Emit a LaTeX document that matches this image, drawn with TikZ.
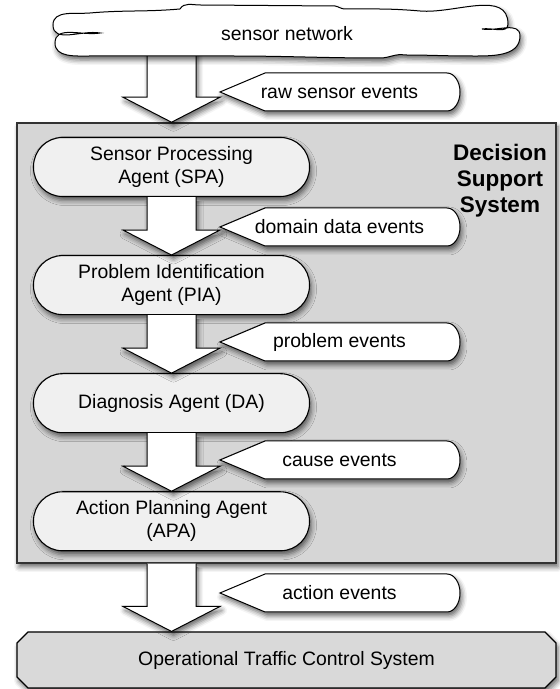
\documentclass[tikz,border=0pt]{standalone}
\usepackage{fontspec}
\setmainfont{Liberation Sans}
\usetikzlibrary{positioning,calc,shapes.misc,shadows.blur}

\begin{document}
\begin{tikzpicture}[x=1pt,y=1pt,
		every node/.style={font=\fontsize{19.4}{23}\selectfont},
		dropshade/.style={blur shadow={shadow xshift=2pt,shadow yshift=-4pt,shadow blur radius=5pt,shadow opacity=60}},
		agent/.style={draw,line width=1.1pt,fill=black!6,rounded corners=29pt,minimum width=276pt,minimum height=59pt,align=center,dropshade},
		dssbox/.style={draw=black!80,line width=1.5pt,fill=black!16,minimum width=539pt,minimum height=440pt,dropshade},
		otcsbox/.style={draw,line width=1.1pt,fill=black!15,chamfered rectangle,chamfered rectangle xsep=5pt,chamfered rectangle ysep=6pt,minimum width=539pt,minimum height=56pt,dropshade},
		flow/.style={draw,line width=1pt,fill=white,dropshade},
		tagline/.style={draw,line width=1pt,fill=white,dropshade}]
		\useasboundingbox (0,0) rectangle (560,689);
		
		\node[dssbox] (dss) at (286.5,346) {};
		\node[font=\fontsize{22.5}{26}\selectfont\bfseries,align=center] (dsslabel) at (500,508) {Decision\\Support\\System};
		
		\node[agent] (spa) at (171.5,522) {Sensor Processing\\Agent (SPA)};
		\node[agent,below=58pt of spa] (pia) {Problem Identification\\Agent (PIA)};
		\node[agent,below=58pt of pia] (da) {Diagnosis Agent (DA)};
		\node[agent,below=58pt of da] (apa) {Action Planning Agent\\(APA)};
		\node[otcsbox] (otcs) at (286.5,29) {Operational Traffic Control System};
		\coordinate (netfoot) at (171.5,640);
		
		\foreach \a/\b in {netfoot/dss.north,spa.south/pia.north,pia.south/da.north,da.south/apa.north,dss.south/otcs.north}
		\path[flow] let \p1=(\a), \p2=(\b) in
		(147pt,\y1) -- (147pt,{\y2+25pt}) -- (123pt,{\y2+25pt}) -- (171.5pt,\y2)
		-- (220pt,{\y2+25pt}) -- (196pt,{\y2+25pt}) -- (196pt,\y1);
		
		% cloud
		\draw[line width=1pt,fill=white,dropshade]
		(100,656) to[out=170,in=-90] (53,664) to[out=90,in=185] (90,676)
		to[out=5,in=185] (180,680) to[out=60,in=180] (200,684) -- (335,683)
		to[out=-10,in=180] (345,680) to[out=0,in=175] (420,678)
		to[out=-5,in=90] (508,665) to[out=-90,in=10] (482,660)
		to[out=-10,in=90] (520,653) to[out=-90,in=0] (470,633)
		to[out=180,in=0] (405,634) to[out=170,in=0] (380,631)
		to[out=180,in=0] (230,633) to[out=180,in=0] (90,633)
		to[out=180,in=-90] (55,646) to[out=90,in=-170] (100,656) -- cycle;
		\node (net) at (287,655) {sensor network};
		
		\foreach \nm/\txt/\yy in {raw/raw sensor events/597,dom/domain data events/462,prob/problem events/347,cause/cause events/229,act/action events/96}{
		\draw[tagline] (220,\yy) -- ++(45,19) -- ++(182,0) arc[start angle=90,end angle=-90,x radius=13,y radius=19] -- ++(-182,0) -- cycle;
		\node (\nm) at (339.5,\yy) {\txt};
		}
\end{tikzpicture}
\end{document}
